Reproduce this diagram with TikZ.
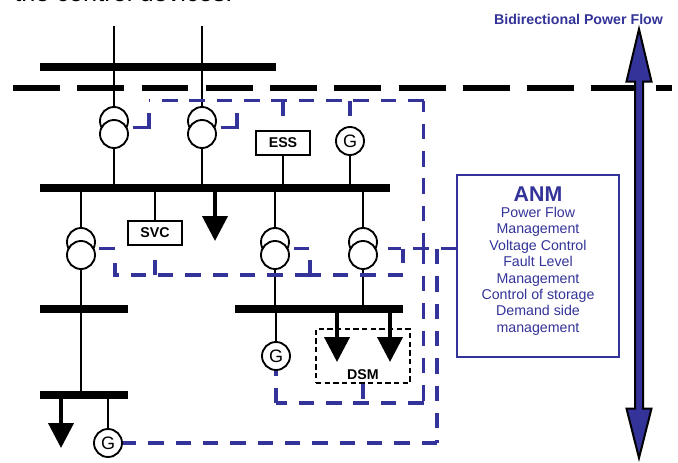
\documentclass[tikz,border=0pt]{standalone}
\usepackage{fontspec}
\setmainfont{Liberation Sans}
\usepackage{xcolor}
\usepackage{tikz}
\usetikzlibrary{arrows.meta,positioning}
\definecolor{anmblue}{HTML}{333399}

\begin{document}
\begin{tikzpicture}[
    x=0.75pt, y=-0.75pt,
    bus/.style={fill=black, inner sep=0pt, minimum height=5.6pt},
    gridline/.style={black, line width=4.5pt, dash pattern=on 35.2pt off 13pt},
    wire/.style={black, line width=1.4pt},
    coil/.style={circle, draw, line width=1.4pt, fill=white, minimum size=21pt, inner sep=0pt},
    gen/.style={circle, draw, line width=1.4pt, fill=white, minimum size=21pt, inner sep=0pt,
                font=\fontsize{13.5}{13.5}\selectfont},
    dev/.style={draw, line width=1.4pt, fill=white, minimum width=40.5pt, minimum height=18pt,
                inner sep=0pt, font=\fontsize{10.65}{12}\selectfont\bfseries},
    load/.style={black, line width=3pt, -{Triangle[length=18.75pt,width=18.75pt]}},
    ctrl/.style={anmblue, line width=2.6pt, dash pattern=on 11.6pt off 8.9pt},
    hook/.style={anmblue, line width=2.6pt},
    flow/.style={draw=black, fill=anmblue, line width=1.5pt, line join=miter},
    anmbox/.style={draw=anmblue, line width=1.5pt, fill=white, text=anmblue, align=center,
                   minimum width=121.5pt, minimum height=136.5pt, inner sep=0pt,
                   font=\fontsize{10.65}{12.3}\selectfont}
]
    \useasboundingbox (0,0) rectangle (678,462);
    \clip (0,0) rectangle (678,462);

    \node[anchor=base west, inner sep=0pt, font=\fontsize{19}{19}\selectfont] (caption) at (14,1.5) {the control devices.};
    \node[text=anmblue, font=\fontsize{10.65}{12}\selectfont\bfseries] (flowlabel) at (578.5,19) {Bidirectional Power Flow};

    \draw[gridline] (13,87.5) -- (672,87.5);

    % busbars
    \node[bus, minimum width=177pt] (bus1) at (158,67) {};
    \node[bus, minimum width=262.5pt] (bus2) at (215,188) {};
    \node[bus, minimum width=66pt] (bus3) at (84,309) {};
    \node[bus, minimum width=126pt] (bus4) at (319,309) {};
    \node[bus, minimum width=66pt] (bus5) at (84,395) {};

    % transformers
    \foreach \name/\x/\y in {ta/114/121, tb/202/121, tc/81/242, td/275/242, te/363/242} {
        \node[coil] (\name u) at (\x,\y) {};
        \node[coil] (\name l) at (\x,\y+13) {};
    }

    \node[dev] (ess) at (283,143) {ESS};
    \node[dev] (svc) at (155,233) {SVC};
    \node[gen] (g1) at (350,141) {G};
    \node[gen] (g2) at (276,356) {G};
    \node[gen] (g3) at (108,443) {G};
    \node[draw, dash pattern=on 4pt off 2.5pt, line width=1.1pt, minimum width=70.5pt, minimum height=40.5pt, inner sep=0pt] (dsm) at (363,356) {};
    \node[inner sep=0pt, font=\fontsize{10.65}{12}\selectfont\bfseries] (dsmlabel) at (363,375) {DSM};

    \coordinate (feedA) at (114,26);
    \coordinate (feedB) at (202,26);
    \coordinate (loadA) at (215,241);
    \coordinate (loadB) at (61,448);
    \coordinate (loadC) at (337,362);
    \coordinate (loadD) at (390,362);

    \draw[wire] (feedA) -- (tau.north);
    \draw[wire] (feedB) -- (tbu.north);
    \draw[wire] (tal.south) -- (tal.south |- bus2.north);
    \draw[wire] (tbl.south) -- (tbl.south |- bus2.north);
    \draw[wire] (tcu.north) -- (tcu.north |- bus2.south);
    \draw[wire] (tdu.north) -- (tdu.north |- bus2.south);
    \draw[wire] (teu.north) -- (teu.north |- bus2.south);
    \draw[wire] (tcl.south) -- (tcl.south |- bus5.north);
    \draw[wire] (tdl.south) -- (tdl.south |- bus4.north);
    \draw[wire] (tel.south) -- (tel.south |- bus4.north);
    \draw[wire] (ess.south) -- (ess.south |- bus2.north);
    \draw[wire] (g1.south) -- (g1.south |- bus2.north);
    \draw[wire] (svc.north) -- (svc.north |- bus2.south);
    \draw[wire] (g2.north) -- (g2.north |- bus4.south);
    \draw[wire] (g3.north) -- (g3.north |- bus5.south);

    \draw[load] (loadA |- bus2.south) -- (loadA);
    \draw[load] (loadB |- bus5.south) -- (loadB);
    \draw[load] (loadC |- bus4.south) -- (loadC);
    \draw[load] (loadD |- bus4.south) -- (loadD);

    % control network
    \node[anmbox] (anm) at (538,266) {{\fontsize{16}{20.5}\selectfont\bfseries ANM}\\Power Flow\\Management\\Voltage Control\\Fault Level\\Management\\Control of storage\\Demand side\\management\rule[-10pt]{0pt}{10pt}};

    \coordinate (top) at (423.5,100.5);
    \coordinate (cross) at (423.5,248.5);
    \coordinate (bot) at (423.5,403);
    \coordinate (far) at (437,249);
    \coordinate (low) at (403,275);
    \coordinate (tap) at (310,275);
    \coordinate (lowend) at (115,275);

    \draw[ctrl] (top) -- (149,100.5);
    \draw[ctrl] (cross) -- (top);
    \draw[ctrl] (cross) -- (bot);
    \draw[ctrl] (bot) -- (276,403) ;
    \draw[ctrl] (276,403) -- (g2.south);
    \draw[ctrl] (dsm.south) -- (dsm.south |- bot);
    \draw[ctrl] (far) -- (far |- g3.east);
    \draw[ctrl] (far |- g3.east) -- (g3.east);
    \draw[ctrl] (anm.west |- cross) -- (388,248.5);
    \draw[ctrl] (403,248.5) -- (403,263);
    \draw[ctrl] (low) -- (tap);
    \draw[ctrl] (tap) -- (lowend) -- (115,261);
    \draw[ctrl] (tap) -- (310,248.5) -- (294,248.5);
    \draw[ctrl] (155,275) -- (155,260);
    \draw[ctrl] (283,100.5) -- (283,116);
    \draw[ctrl] (350,100.5) -- (350,116);

    \draw[hook] (133,127.5) -- (149,127.5) -- (149,112.5);
    \draw[hook] (221,127.5) -- (237,127.5) -- (237,112.5);
    \draw[hook] (99,248.5) -- (115,248.5);

    % power flow arrow
    \draw[flow] (639,29) -- (651.5,81.5) -- (643,81.5) -- (643,408.5) -- (651.5,408.5) -- (639,458)
        -- (626.5,408.5) -- (635,408.5) -- (635,81.5) -- (626.5,81.5) -- cycle;
\end{tikzpicture}
\end{document}
